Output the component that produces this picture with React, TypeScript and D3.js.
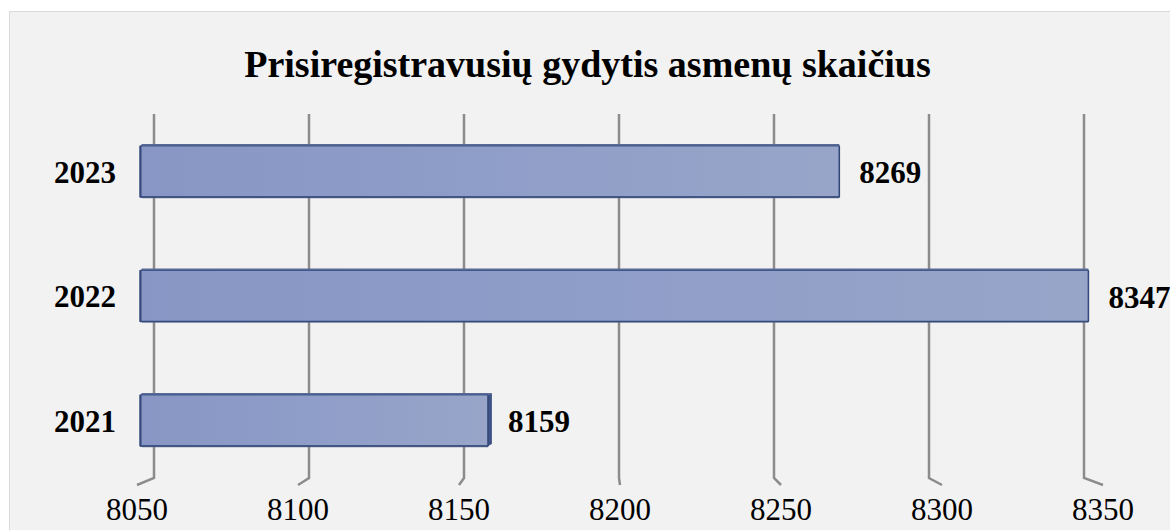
import React from "react";
import * as d3 from "d3";

const categories = ["2023", "2022", "2021"];
const values = [8269, 8347, 8159];
const tickValues = [8050, 8100, 8150, 8200, 8250, 8300, 8350];
const title = "Prisiregistravusių gydytis asmenų skaičius";

const W = 1170;
const H = 530;
const FONT = "'Liberation Serif', 'Times New Roman', serif";

export default function App() {
  const domain: [number, number] = [8050, 8350];
  // back wall (gridlines) and front plane (floor edge) scales
  const xBack = d3.scaleLinear().domain(domain).range([154, 1084]);
  const xFloor = d3.scaleLinear().domain(domain).range([137, 1103]);
  const xBar = d3.scaleLinear().domain(domain).range([140, 1098]);
  const y = d3
    .scaleBand<string>()
    .domain(categories)
    .range([109.25, 482.75])
    .paddingInner(0.59)
    .paddingOuter(0.295);

  const gridTop = 114;
  const gridBottom = 478;
  const floorY = 485;
  const bw = y.bandwidth();

  return (
    <svg
      width={W}
      height={H}
      style={{ position: "absolute", left: 0, top: 0, display: "block" }}
    >
      <defs>
        <linearGradient id="barGrad" x1="0" x2="1" y1="0" y2="0">
          <stop offset="0" stopColor="#8796c4" />
          <stop offset="0.5" stopColor="#8f9ec8" />
          <stop offset="1" stopColor="#98a5c9" />
        </linearGradient>
      </defs>
      <rect x={0} y={0} width={W} height={H} fill="#ffffff" />
      <rect
        x={9.5}
        y={11.5}
        width={W + 20}
        height={H + 20}
        fill="#f2f2f2"
        stroke="#d9d9d9"
        strokeWidth={1}
      />
      <text
        x={587.5}
        y={77}
        textAnchor="middle"
        fontFamily={FONT}
        fontWeight="bold"
        fontSize={38}
        fill="#000"
      >
        {title}
      </text>

      {/* gridlines with 3D floor feet */}
      {tickValues.map((t) => (
        <g key={t}>
          <path
            d={`M${xBack(t)},${gridTop} L${xBack(t)},${gridBottom} L${xFloor(t)},${floorY}`}
            fill="none"
            stroke="#8c8c8c"
            strokeWidth={2.5}
          />
          <text
            x={xFloor(t)}
            y={520}
            textAnchor="middle"
            fontFamily={FONT}
            fontSize={31}
            fill="#000"
          >
            {t}
          </text>
        </g>
      ))}

      {/* bars */}
      {categories.map((c, i) => {
        const v = values[i];
        const x0 = xBar(domain[0]);
        const x1 = xBar(v);
        const top = y(c)!;
        const bot = top + bw;
        const side = Math.max(0, xBack(v) - x1);
        const lift = 2;
        return (
          <g key={c}>
            {/* top face */}
            <path
              d={`M${x0},${top} L${x0 + 2},${top - lift} L${x1 + side},${top - lift} L${x1},${top} Z`}
              fill="#5a6b96"
            />
            {/* side face */}
            {side > 0.5 && (
              <path
                d={`M${x1},${top} L${x1 + side},${top - lift} L${x1 + side},${bot - lift} L${x1},${bot} Z`}
                fill="#3e5283"
              />
            )}
            {/* shadow under bottom */}
            <rect x={x0 + 2} y={bot} width={x1 - x0 - 2} height={1.5} fill="#6f7a94" opacity={0.5} />
            <rect
              x={x0}
              y={top}
              width={x1 - x0}
              height={bw}
              fill="url(#barGrad)"
              stroke="#40578a"
              strokeWidth={1}
            />
            <line x1={x0 + 0.5} x2={x0 + 0.5} y1={top} y2={bot} stroke="#34497a" strokeWidth={2} />
            <line x1={x0} x2={x1} y1={bot} y2={bot} stroke="#34497a" strokeWidth={1.5} />
            <line x1={x1} x2={x1} y1={top} y2={bot} stroke="#34497a" strokeWidth={1.5} />
            <text
              x={116}
              y={top + bw / 2}
              dy="0.36em"
              textAnchor="end"
              fontFamily={FONT}
              fontWeight="bold"
              fontSize={31}
              fill="#000"
            >
              {c}
            </text>
            <text
              x={x1 + 20}
              y={top + bw / 2}
              dy="0.38em"
              textAnchor="start"
              fontFamily={FONT}
              fontWeight="bold"
              fontSize={31}
              fill="#000"
            >
              {v}
            </text>
          </g>
        );
      })}
    </svg>
  );
}
